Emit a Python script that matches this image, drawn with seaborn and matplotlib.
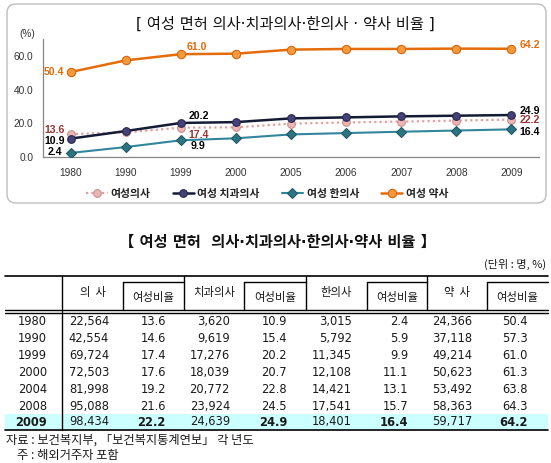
"""
Female licence holders ratio: line chart on top, summary table below
"""

import numpy as np
import matplotlib
matplotlib.use('Agg')
import matplotlib.pyplot as plt
import seaborn as sns
from matplotlib.patches import FancyBboxPatch, Rectangle
from matplotlib.font_manager import FontProperties

# ---- chart data ----
chart_years = ['1980', '1990', '1999', '2000', '2005', '2006', '2007', '2008', '2009']
f_doctor = [13.6, 14.6, 17.4, 17.6, 19.8, 20.5, 21.0, 21.6, 22.2]
f_dentist = [10.9, 15.4, 20.2, 20.7, 22.9, 23.5, 24.1, 24.5, 24.9]
f_kmed = [2.4, 5.9, 9.9, 11.1, 13.4, 14.2, 15.0, 15.7, 16.4]
f_pharm = [50.4, 57.3, 61.0, 61.3, 63.7, 64.1, 64.1, 64.3, 64.2]
series_names = ['여성의사', '여성 치과의사', '여성 한의사', '여성 약사']
y_ticks = [0, 20, 40, 60]
label_idx = [0, 2, 8]

# ---- table data ----
table_years = ['1980', '1990', '1999', '2000', '2004', '2008', '2009']
doctors = [22564, 42554, 69724, 72503, 81998, 95088, 98434]
doctor_ratio = [13.6, 14.6, 17.4, 17.6, 19.2, 21.6, 22.2]
dentists = [3620, 9619, 17276, 18039, 20772, 23924, 24639]
dentist_ratio = [10.9, 15.4, 20.2, 20.7, 22.8, 24.5, 24.9]
kmeds = [3015, 5792, 11345, 12108, 14421, 17541, 18401]
kmed_ratio = [2.4, 5.9, 9.9, 11.1, 13.1, 15.7, 16.4]
pharms = [24366, 37118, 49214, 50623, 53492, 58363, 59717]
pharm_ratio = [50.4, 57.3, 61.0, 61.3, 63.8, 64.3, 64.2]
group_names = ['의  사', '치과의사', '한의사', '약  사']
ratio_header = '여성비율'

chart_title = '[ 여성 면허 의사·치과의사·한의사 · 약사 비율 ]'
table_title = '【 여성 면허  의사·치과의사·한의사·약사 비율 】'
unit_note = '(단위 : 명, %)'
source_note = '자료 : 보건복지부, 「보건복지통계연보」 각 년도'
foot_note = '주 : 해외거주자 포함'

# ---- styles ----
sns.set_style('white')
plt.rcParams['font.family'] = ['Liberation Sans', 'Noto Sans CJK KR']
KR = ['Noto Sans CJK KR', 'DejaVu Sans']
TB = ['DejaVu Sans', 'Noto Sans CJK KR']

STYLES = {
    '여성의사': dict(color='#E3A09E', ls=(0, (1, 1.4)), lw=1.6, marker='o', ms=5.5,
                 mfc='#EBB7B6', mec='#C9908E', lbl='#943634', z=2),
    '여성 치과의사': dict(color='#141B35', ls='-', lw=1.8, marker='o', ms=5.5,
                    mfc='#45427A', mec='#27264C', lbl='black', z=4),
    '여성 한의사': dict(color='#31859C', ls='-', lw=1.5, marker='D', ms=5,
                   mfc='#2D7483', mec='#1F5865', lbl='black', z=3),
    '여성 약사': dict(color='#E46C0A', ls='-', lw=1.8, marker='o', ms=6,
                  mfc='#F59A3C', mec='#D5660C', lbl='#E46C0A', z=3),
}
# (dx, dy, ha) in pixels for the value labels at label_idx
LABEL_POS = {
    '여성의사': [(-6, 4, 'right'), (8, -7, 'left'), (8, 0, 'left')],
    '여성 치과의사': [(-6, -2, 'right'), (8, 7, 'left'), (8, 4, 'left')],
    '여성 한의사': [(-8, 1, 'right'), (10, -6, 'left'), (8, -3, 'left')],
    '여성 약사': [(-6, 0, 'right'), (6, 7, 'left'), (8, 4, 'left')],
}

W, H = 551, 463
fig = plt.figure(figsize=(W / 100, H / 100), dpi=100)

# background axes in pixel coordinates (frame + table)
bg = fig.add_axes([0, 0, 1, 1])
bg.set_xlim(0, W)
bg.set_ylim(H, 0)
bg.axis('off')

frame = FancyBboxPatch((7, 4), 539, 199, boxstyle='round,pad=0,rounding_size=9',
                       fc='white', ec='#BDBDBD', lw=1.0)
bg.add_patch(frame)
bg.text(285, 24, chart_title, ha='center', va='center', fontsize=11,
        family=TB, color='#111111')
bg.text(27, 34, '(%)', ha='center', va='center', fontsize=7.2, color='#333333')

# ---- line chart ----
ax = fig.add_axes([43 / W, 1 - 157 / H, 496 / W, 118 / H])
ax.set_facecolor('none')
xpos = np.arange(len(chart_years))
all_series = [f_doctor, f_dentist, f_kmed, f_pharm]

for name, vals in zip(series_names, all_series):
    st = STYLES[name]
    sns.lineplot(x=xpos, y=vals, ax=ax, color=st['color'], linestyle=st['ls'],
                 linewidth=st['lw'], marker=st['marker'], markersize=st['ms'],
                 markerfacecolor=st['mfc'], markeredgecolor=st['mec'],
                 markeredgewidth=0.8, label=name, zorder=st['z'], errorbar=None)
    for (dx, dy, ha), i in zip(LABEL_POS[name], label_idx):
        ax.annotate(f'{vals[i]:.1f}', xy=(xpos[i], vals[i]), xytext=(dx, dy),
                    textcoords='offset pixels', ha=ha, va='center',
                    fontsize=7.6, fontweight='bold', color=st['lbl'], zorder=6)

ax.set_xlim(-0.5, len(chart_years) - 0.5)
ax.set_ylim(0, 70)
ax.set_xlabel('')
ax.set_ylabel('')
ax.set_yticks(y_ticks)
ax.set_yticklabels([f'{t:.1f}' for t in y_ticks])
ax.set_xticks(xpos)
ax.set_xticklabels(chart_years)
ax.set_xticks(xpos[:-1] + 0.5, minor=True)
ax.tick_params(axis='x', which='major', length=0, pad=8, labelsize=7.3, labelcolor='#333333')
ax.tick_params(axis='x', which='minor', length=3, direction='in', color='#868686')
ax.tick_params(axis='y', length=3, direction='in', pad=7, labelsize=7.3,
               labelcolor='#333333', color='#868686')
for s in ['top', 'right']:
    ax.spines[s].set_visible(False)
for s in ['left', 'bottom']:
    ax.spines[s].set_color('#868686')
    ax.spines[s].set_linewidth(0.9)

handles, labels = ax.get_legend_handles_labels()
leg = ax.legend(handles, labels, loc='center', bbox_to_anchor=(267 / W, 1 - 194 / H),
                bbox_transform=fig.transFigure, ncol=4, frameon=False,
                prop=FontProperties(family=KR, weight='bold', size=7.8),
                handlelength=2.0, columnspacing=2.0, handletextpad=0.3)
for t in leg.get_texts():
    t.set_color('#222222')

# ---- table ----
txt = '#1A1A1A'
bg.text(277, 242, table_title, ha='center', va='center', fontsize=11,
        fontweight='bold', family=TB, color='#111111')
bg.text(546, 264, unit_note, ha='right', va='center', fontsize=8, family=KR, color=txt)

left, right = 5, 548
top, head_bot = 276, 311.5
row_y = [321.7, 338.5, 355.2, 372.2, 389.3, 406.2, 422]
bottom = 429.5
year_x = 47
group_left = [62, 184, 306, 427]
sub_left = [123, 244, 367, 487]
group_right = [184, 306, 427, right]
count_x = [109, 230, 352, 472]
ratio_x = [166, 287, 408, 528]

bg.add_patch(Rectangle((left, 413.5), right - left, bottom - 413.5,
                       fc='#CCFFFF', ec='none', zorder=0))
lw = 1.0
bg.plot([left, right], [top, top], color='black', lw=1.2)
bg.plot([left, right], [head_bot - 1.2, head_bot - 1.2], color='black', lw=lw)
bg.plot([left, right], [head_bot + 1.2, head_bot + 1.2], color='black', lw=lw)
bg.plot([left, right], [bottom, bottom], color='black', lw=1.2)
bg.plot([62, 62], [top, bottom], color='black', lw=lw)
for gl, sl, gr in zip(group_left, sub_left, group_right):
    if gr != right:
        bg.plot([gr, gr], [top, head_bot - 1.2], color='black', lw=lw)
    bg.plot([sl, gr], [282, 282], color='black', lw=lw)
    bg.plot([sl, sl], [282, head_bot - 1.2], color='black', lw=lw)

for gl, sl, gr, name in zip(group_left, sub_left, group_right, group_names):
    bg.text((gl + sl) / 2, 292.5, name, ha='center', va='center', fontsize=8.2,
            family=KR, color=txt)
    bg.text((sl + gr) / 2, 297, ratio_header, ha='center', va='center', fontsize=8.2,
            family=KR, color=txt)

counts = [doctors, dentists, kmeds, pharms]
ratios = [doctor_ratio, dentist_ratio, kmed_ratio, pharm_ratio]
last = len(table_years) - 1
for r, (yr, y) in enumerate(zip(table_years, row_y)):
    wt = 'bold' if r == last else 'normal'
    bg.text(year_x, y, yr, ha='right', va='center', fontsize=8.3, family=TB,
            color=txt, fontweight=wt)
    for g in range(4):
        bg.text(count_x[g], y, f'{counts[g][r]:,}', ha='right', va='center',
                fontsize=8.3, family=TB, color=txt)
        bg.text(ratio_x[g], y, f'{ratios[g][r]:.1f}', ha='right', va='center',
                fontsize=8.3, family=TB, color=txt, fontweight=wt)

bg.text(6, 440, source_note, ha='left', va='center', fontsize=8.8, family=KR, color=txt)
bg.text(17, 455.5, foot_note, ha='left', va='center', fontsize=8.8, family=KR, color=txt)

fig.savefig('out.png', dpi=100)
plt.close(fig)
